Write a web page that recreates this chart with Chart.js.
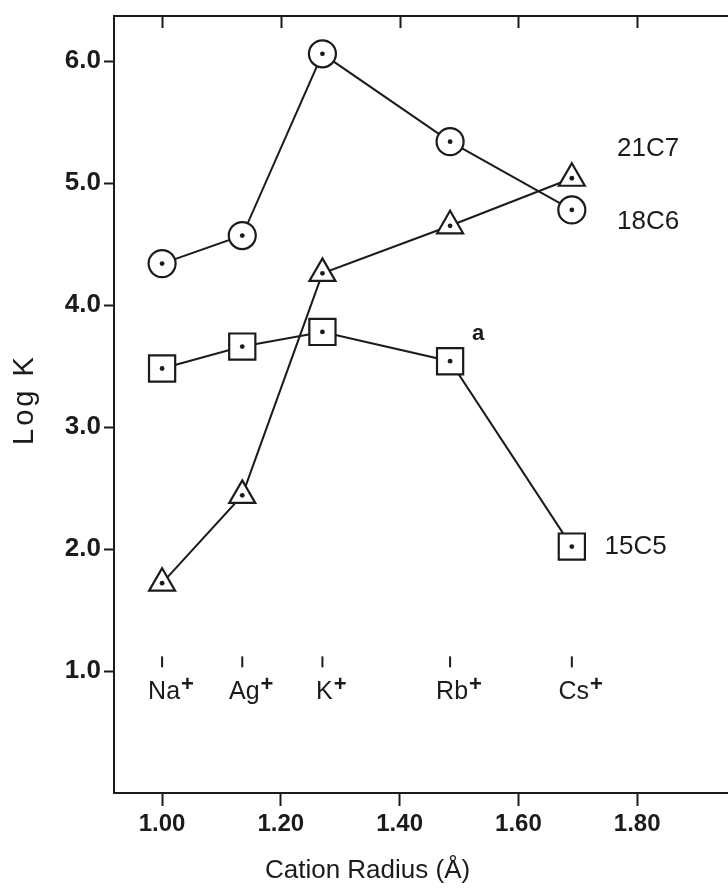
<!DOCTYPE html>
<html>
<head>
<meta charset="utf-8">
<script src="https://cdn.jsdelivr.net/npm/chart.js@4.4.1/dist/chart.umd.min.js"></script>
<style>
  html, body { margin: 0; padding: 0; background: #fff; overflow: hidden; }
  canvas { display: block; }
</style>
</head>
<body>
<canvas id="myChart" width="728" height="888"></canvas>
<script>
// cations and their radius positions on the x axis
const cations = ['Na', 'Ag', 'K', 'Rb', 'Cs'];
const cationRadius = [1.00, 1.135, 1.27, 1.485, 1.69];

// log K values
const logK18C6 = [4.34, 4.57, 6.06, 5.34, 4.78];
const logK21C7 = [1.72, 2.44, 4.26, 4.65, 5.04];
const logK15C5 = [3.48, 3.66, 3.78, 3.54, 2.02];

const seriesNames = ['18C6', '21C7', '15C5'];

const xTicks = [1.00, 1.20, 1.40, 1.60, 1.80];
const yTicks = [1.0, 2.0, 3.0, 4.0, 5.0, 6.0];

const ink = '#1b1b1b';
const FONT = '"Liberation Sans", Arial, sans-serif';

const pts = (ys) => cationRadius.map((x, i) => ({ x: x, y: ys[i] }));

// frame top, top ticks, cation labels, series names, axis titles
const extras = {
	id: 'extras',
	afterDraw(chart) {
		const ctx = chart.ctx;
		const xs = chart.scales.x;
		const ys = chart.scales.y;
		const area = chart.chartArea;
		ctx.save();
		ctx.strokeStyle = ink;
		ctx.fillStyle = ink;

		// top border with inner ticks
		ctx.lineWidth = 2;
		ctx.beginPath();
		ctx.moveTo(area.left, area.top);
		ctx.lineTo(area.right, area.top);
		xTicks.forEach(v => {
			const px = Math.round(xs.getPixelForValue(v)) + 0.5;
			ctx.moveTo(px, area.top);
			ctx.lineTo(px, area.top + 12);
		});
		ctx.stroke();

		// cation marks and labels
		ctx.lineWidth = 2;
		cations.forEach((c, i) => {
			const px = xs.getPixelForValue(cationRadius[i]);
			ctx.beginPath();
			ctx.moveTo(px, ys.getPixelForValue(1.12));
			ctx.lineTo(px, ys.getPixelForValue(1.03));
			ctx.stroke();
			const base = ys.getPixelForValue(0.77);
			ctx.font = '25px ' + FONT;
			ctx.textAlign = 'center';
			ctx.textBaseline = 'alphabetic';
			ctx.fillText(c, px + 2, base);
			const w = ctx.measureText(c).width;
			ctx.font = 'bold 22px ' + FONT;
			ctx.textAlign = 'left';
			ctx.fillText('+', px + 2 + w / 2 + 1, base - 8);
		});

		// series names
		ctx.font = '26px ' + FONT;
		ctx.textAlign = 'left';
		ctx.textBaseline = 'middle';
		ctx.fillText(seriesNames[1], xs.getPixelForValue(1.766), ys.getPixelForValue(5.28));
		ctx.fillText(seriesNames[0], xs.getPixelForValue(1.766), ys.getPixelForValue(4.68));
		ctx.fillText(seriesNames[2], xs.getPixelForValue(1.745), ys.getPixelForValue(2.02));
		ctx.font = 'bold 22px ' + FONT;
		ctx.textAlign = 'center';
		ctx.fillText('a', xs.getPixelForValue(1.532), ys.getPixelForValue(3.76));

		// x axis title
		ctx.font = '26px ' + FONT;
		ctx.textAlign = 'center';
		ctx.textBaseline = 'alphabetic';
		ctx.fillText('Cation Radius (Å)', xs.getPixelForValue(1.346), 878);

		// y axis title
		ctx.translate(25, (area.top + area.bottom) / 2 - 5);
		ctx.rotate(-Math.PI / 2);
		ctx.font = '29px ' + FONT;
		ctx.letterSpacing = '3px';
		ctx.textAlign = 'center';
		ctx.textBaseline = 'middle';
		ctx.fillText('Log K', 0, 0);
		ctx.restore();
	}
};

const ctx = document.getElementById('myChart').getContext('2d');

new Chart(ctx, {
	type: 'scatter',
	data: {
		datasets: [
			// centre dots on top
			{ data: pts(logK18C6), pointRadius: 2.4, pointBackgroundColor: ink, pointBorderWidth: 0, showLine: false, order: 0 },
			{ data: pts(logK21C7), pointRadius: 2.4, pointBackgroundColor: ink, pointBorderWidth: 0, showLine: false, order: 0 },
			{ data: pts(logK15C5), pointRadius: 2.4, pointBackgroundColor: ink, pointBorderWidth: 0, showLine: false, order: 0 },
			{
				label: seriesNames[0], data: pts(logK18C6), showLine: true, order: 1,
				borderColor: ink, borderWidth: 2, pointStyle: 'circle', pointRadius: 13.5,
				pointBackgroundColor: '#fff', pointBorderColor: ink, pointBorderWidth: 2.2
			},
			{
				label: seriesNames[1], data: pts(logK21C7), showLine: true, order: 1,
				borderColor: ink, borderWidth: 2, pointStyle: 'triangle', pointRadius: 15,
				pointBackgroundColor: '#fff', pointBorderColor: ink, pointBorderWidth: 2.2
			},
			{
				label: seriesNames[2], data: pts(logK15C5), showLine: true, order: 1,
				borderColor: ink, borderWidth: 2, pointStyle: 'rect', pointRadius: 18.5,
				pointBackgroundColor: '#fff', pointBorderColor: ink, pointBorderWidth: 2.2
			}
		]
	},
	options: {
		responsive: false,
		animation: false,
		devicePixelRatio: 1,
		layout: { autoPadding: false, padding: { top: 16, right: 0, left: 0, bottom: 0 } },
		plugins: { legend: { display: false }, tooltip: { enabled: false } },
		scales: {
			x: {
				type: 'linear',
				min: 0.919,
				max: 1.953,
				afterBuildTicks: s => { s.ticks = xTicks.map(v => ({ value: v })); },
				afterFit: s => { s.height = 95; s.paddingLeft = 0; s.paddingRight = 0; },
				ticks: {
					callback: v => v.toFixed(2),
					color: ink,
					font: { family: FONT, size: 24, weight: 'bold' },
					padding: 4,
					maxRotation: 0
				},
				grid: { drawOnChartArea: false, tickLength: 13, tickWidth: 2, color: ink },
				border: { display: true, width: 2, color: ink }
			},
			y: {
				min: 0,
				max: 6.37,
				afterBuildTicks: s => { s.ticks = yTicks.map(v => ({ value: v })); },
				afterFit: s => { s.width = 114; s.paddingTop = 0; s.paddingBottom = 0; },
				ticks: {
					callback: v => v.toFixed(1),
					color: ink,
					font: { family: FONT, size: 26, weight: 'bold' },
					padding: 3
				},
				grid: { drawOnChartArea: false, tickLength: 10, tickWidth: 2, color: ink },
				border: { display: true, width: 2, color: ink }
			}
		}
	},
	plugins: [extras]
});
</script>
</body>
</html>
